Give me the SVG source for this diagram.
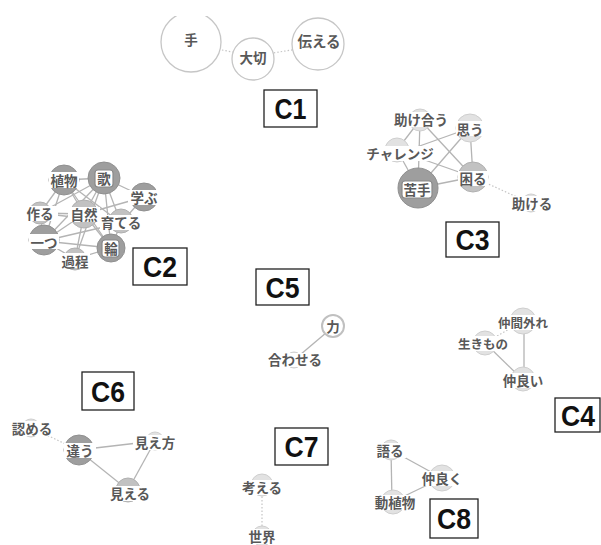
<svg xmlns="http://www.w3.org/2000/svg" width="601" height="545" viewBox="0 0 601 545">
<style>
.bg{fill:#fff}
.e{stroke:#b4b4b4;stroke-width:1.3;fill:none}
.d{stroke:#c4c4c4;stroke-width:1.2;fill:none;stroke-dasharray:1.5 2}
.big{fill:#fff;stroke:#c6c6c6;stroke-width:1.3}
.n1{fill:#e2e2e2;stroke:#cfcfcf;stroke-width:1}
.n2{fill:#c2c2c2;stroke:#b0b0b0;stroke-width:1}
.n3{fill:#9e9e9e;stroke:#909090;stroke-width:1}
.ring{fill:#fff;stroke:#c0c0c0;stroke-width:2}
.band{fill:#fff}
.frame{fill:#fff;stroke:#8a8a8a;stroke-width:1.2}
.t{font-family:"Noto Sans CJK JP","Noto Sans",sans-serif;font-size:13.5px;font-weight:bold;fill:#585858;text-anchor:middle;dominant-baseline:central}
.box{fill:#fff;stroke:#222;stroke-width:1.3}
.lab{font-family:"Liberation Sans",Arial,sans-serif;font-size:29px;font-weight:bold;fill:#111;text-anchor:middle}
</style>
<defs>
<clipPath id="top"><rect x="0" y="16" width="601" height="529"/></clipPath>
</defs>
<rect class="bg" x="0" y="0" width="601" height="545"/>

<g id="connectors">
<line class="d" x1="191" y1="44" x2="253" y2="56"/>
<line class="d" x1="253" y1="56" x2="318" y2="46"/>
<line class="e" x1="64" y1="180" x2="104" y2="178"/>
<line class="e" x1="64" y1="180" x2="40" y2="213"/>
<line class="e" x1="64" y1="180" x2="84" y2="214"/>
<line class="e" x1="64" y1="180" x2="121" y2="223"/>
<line class="e" x1="64" y1="180" x2="111" y2="248"/>
<line class="e" x1="64" y1="180" x2="44" y2="241"/>
<line class="e" x1="104" y1="178" x2="144" y2="197"/>
<line class="e" x1="104" y1="178" x2="84" y2="214"/>
<line class="e" x1="104" y1="178" x2="121" y2="223"/>
<line class="e" x1="104" y1="178" x2="40" y2="213"/>
<line class="e" x1="104" y1="178" x2="111" y2="248"/>
<line class="e" x1="104" y1="178" x2="75" y2="259"/>
<line class="e" x1="104" y1="178" x2="44" y2="241"/>
<line class="e" x1="84" y1="214" x2="40" y2="213"/>
<line class="e" x1="84" y1="214" x2="121" y2="223"/>
<line class="e" x1="84" y1="214" x2="44" y2="241"/>
<line class="e" x1="84" y1="214" x2="111" y2="248"/>
<line class="e" x1="84" y1="214" x2="75" y2="259"/>
<line class="e" x1="40" y1="213" x2="44" y2="241"/>
<line class="e" x1="40" y1="213" x2="121" y2="223"/>
<line class="e" x1="44" y1="241" x2="111" y2="248"/>
<line class="e" x1="44" y1="241" x2="75" y2="259"/>
<line class="e" x1="44" y1="241" x2="121" y2="223"/>
<line class="e" x1="75" y1="259" x2="111" y2="248"/>
<line class="e" x1="121" y1="223" x2="111" y2="248"/>
<line class="e" x1="144" y1="197" x2="121" y2="223"/>
<line class="e" x1="144" y1="197" x2="84" y2="214"/>
<line class="e" x1="420" y1="120" x2="397" y2="150"/>
<line class="e" x1="420" y1="120" x2="418" y2="188"/>
<line class="e" x1="420" y1="120" x2="473" y2="177"/>
<line class="e" x1="470" y1="128" x2="400" y2="153"/>
<line class="e" x1="470" y1="128" x2="418" y2="188"/>
<line class="e" x1="470" y1="128" x2="473" y2="177"/>
<line class="e" x1="397" y1="150" x2="418" y2="188"/>
<line class="e" x1="405" y1="153" x2="473" y2="177"/>
<line class="e" x1="418" y1="188" x2="473" y2="177"/>
<line class="d" x1="473" y1="177" x2="530" y2="203"/>
<line class="e" x1="524" y1="321" x2="524" y2="379"/>
<line class="e" x1="485" y1="343" x2="522" y2="379"/>
<line class="d" x1="485" y1="343" x2="523" y2="321"/>
<line class="e" x1="333" y1="327" x2="294" y2="360"/>
<line class="d" x1="32" y1="428" x2="78" y2="450"/>
<line class="e" x1="78" y1="450" x2="155" y2="441"/>
<line class="e" x1="78" y1="450" x2="128" y2="490"/>
<line class="e" x1="155" y1="441" x2="128" y2="490"/>
<line class="d" x1="262" y1="486" x2="262" y2="534"/>
<line class="e" x1="391" y1="450" x2="392" y2="502"/>
<line class="e" x1="391" y1="450" x2="442" y2="478"/>
<line class="e" x1="442" y1="478" x2="392" y2="502"/>
</g>

<g id="n-te" clip-path="url(#top)"><circle class="big" cx="191" cy="42" r="30"/><text class="t" x="191" y="39">手</text></g>
<g id="n-taisetsu"><circle class="big" cx="253" cy="59" r="21"/><text class="t" x="253" y="57">大切</text></g>
<g id="n-tsutaeru" clip-path="url(#top)"><circle class="big" cx="318" cy="44" r="26"/><text class="t" x="319" y="40" style="font-size:14.5px">伝える</text></g>

<g id="n-shokubutsu"><circle class="n3" cx="64" cy="180" r="15"/><rect class="band" x="49" y="172" width="30" height="16"/><text class="t" x="64" y="180">植物</text></g>
<g id="n-uta"><circle class="n3" cx="104" cy="178" r="16"/><rect class="frame" x="95" y="170" width="18" height="17" rx="3"/><text class="t" x="104" y="178">歌</text></g>
<g id="n-manabu"><circle class="n3" cx="144" cy="197" r="14"/><rect class="band" x="128" y="190" width="32" height="15"/><text class="t" x="144" y="197">学ぶ</text></g>
<g id="n-tsukuru"><circle class="n2" cx="40" cy="213" r="11"/><rect class="band" x="22" y="206" width="36" height="15"/><text class="t" x="40" y="213">作る</text></g>
<g id="n-shizen"><circle class="n2" cx="84" cy="214" r="14"/><rect class="band" x="68" y="207" width="32" height="15"/><text class="t" x="84" y="214">自然</text></g>
<g id="n-sodateru"><circle class="n2" cx="121" cy="221" r="12"/><rect class="band" x="100" y="215" width="42" height="15"/><text class="t" x="121" y="222">育てる</text></g>
<g id="n-hitotsu"><circle class="n3" cx="44" cy="240" r="15"/><rect class="band" x="29" y="234" width="30" height="15"/><text class="t" x="44" y="242">一つ</text></g>
<g id="n-wa"><circle class="n3" cx="111" cy="248" r="14"/><rect class="frame" x="102" y="240" width="17" height="17" rx="3"/><text class="t" x="111" y="248">輪</text></g>
<g id="n-katei"><circle class="n2" cx="75" cy="259" r="11"/><rect class="band" x="60" y="253" width="30" height="15"/><text class="t" x="75" y="261">過程</text></g>

<g id="n-tasukeau"><circle class="n1" cx="420" cy="120" r="11"/><rect class="band" x="393" y="112" width="56" height="15"/><text class="t" x="421" y="119">助け合う</text></g>
<g id="n-omou"><circle class="n1" cx="470" cy="128" r="14"/><rect class="band" x="456" y="121" width="29" height="15"/><text class="t" x="470" y="129">思う</text></g>
<g id="n-challenge"><circle class="n1" cx="397" cy="150" r="12"/><rect class="band" x="366" y="146" width="68" height="15"/><text class="t" x="400" y="153">チャレンジ</text></g>
<g id="n-komaru"><circle class="n2" cx="473" cy="177" r="15"/><rect class="band" x="458" y="171" width="30" height="15"/><text class="t" x="473" y="178">困る</text></g>
<g id="n-nigate"><circle class="n3" cx="418" cy="188" r="20"/><rect class="frame" x="402" y="181" width="30" height="17" rx="3"/><text class="t" x="417" y="189">苦手</text></g>
<g id="n-tasukeru"><circle class="n1" cx="531" cy="203" r="9"/><rect class="band" x="510" y="196" width="44" height="15"/><text class="t" x="532" y="203">助ける</text></g>

<g id="n-nakamahazure"><circle class="n1" cx="523" cy="321" r="13"/><rect class="band" x="498" y="315" width="50" height="15"/><text class="t" x="523" y="322" style="font-size:12.5px">仲間外れ</text></g>
<g id="n-ikimono"><circle class="n1" cx="485" cy="343" r="12"/><rect class="band" x="458" y="336" width="51" height="15"/><text class="t" x="483" y="343" style="font-size:12.5px">生きもの</text></g>
<g id="n-nakayoi"><circle class="n1" cx="523" cy="379" r="12"/><rect class="band" x="502" y="373" width="42" height="15"/><text class="t" x="523" y="380">仲良い</text></g>

<g id="n-chikara"><circle class="ring" cx="333" cy="326" r="11"/><text class="t" x="333" y="326">力</text></g>
<g id="n-awaseru"><circle class="n1" cx="294" cy="360" r="8"/><rect class="band" x="266" y="353" width="57" height="14"/><text class="t" x="295" y="359">合わせる</text></g>

<g id="n-mitomeru"><circle class="n1" cx="31" cy="428" r="9"/><rect class="band" x="10" y="421" width="44" height="15"/><text class="t" x="32" y="428">認める</text></g>
<g id="n-chigau"><circle class="n3" cx="79" cy="450" r="15"/><rect class="band" x="64" y="443" width="32" height="15"/><text class="t" x="80" y="450">違う</text></g>
<g id="n-miekata"><circle class="n1" cx="155" cy="441" r="9"/><rect class="band" x="133" y="435" width="44" height="15"/><text class="t" x="155" y="442">見え方</text></g>
<g id="n-mieru"><circle class="n2" cx="128" cy="490" r="12"/><rect class="band" x="108" y="486" width="44" height="15"/><text class="t" x="130" y="493">見える</text></g>

<g id="n-kangaeru"><circle class="n1" cx="262" cy="485" r="11"/><rect class="band" x="240" y="480" width="44" height="15"/><text class="t" x="262" y="487">考える</text></g>
<g id="n-sekai"><circle class="n1" cx="262" cy="536" r="10"/><rect class="band" x="246" y="529" width="32" height="15"/><text class="t" x="262" y="536">世界</text></g>

<g id="n-kataru"><circle class="n1" cx="391" cy="450" r="10"/><rect class="band" x="375" y="443" width="31" height="15"/><text class="t" x="390" y="450">語る</text></g>
<g id="n-nakayoku"><circle class="n1" cx="442" cy="478" r="13"/><rect class="band" x="420" y="471" width="44" height="15"/><text class="t" x="442" y="478">仲良く</text></g>
<g id="n-doushokubutsu"><circle class="n1" cx="393" cy="502" r="12"/><rect class="band" x="373" y="495" width="45" height="15"/><text class="t" x="395" y="502">動植物</text></g>

<g id="lab-c1"><rect class="box" x="264" y="90" width="53" height="37"/><text class="lab" x="290.5" y="119" textLength="32" lengthAdjust="spacingAndGlyphs">C1</text></g>
<g id="lab-c2"><rect class="box" x="133" y="248" width="54" height="37"/><text class="lab" x="160" y="277" textLength="34" lengthAdjust="spacingAndGlyphs">C2</text></g>
<g id="lab-c3"><rect class="box" x="446" y="222" width="53" height="35"/><text class="lab" x="472.5" y="250" textLength="34" lengthAdjust="spacingAndGlyphs">C3</text></g>
<g id="lab-c4"><rect class="box" x="555" y="398" width="45" height="34"/><text class="lab" x="578" y="426" textLength="34" lengthAdjust="spacingAndGlyphs">C4</text></g>
<g id="lab-c5"><rect class="box" x="256" y="269" width="53" height="36"/><text class="lab" x="282.5" y="298" textLength="34" lengthAdjust="spacingAndGlyphs">C5</text></g>
<g id="lab-c6"><rect class="box" x="82" y="372" width="52" height="38"/><text class="lab" x="108" y="402" textLength="34" lengthAdjust="spacingAndGlyphs">C6</text></g>
<g id="lab-c7"><rect class="box" x="275" y="428" width="53" height="37"/><text class="lab" x="301.5" y="457" textLength="34" lengthAdjust="spacingAndGlyphs">C7</text></g>
<g id="lab-c8"><rect class="box" x="430" y="499" width="48" height="39"/><text class="lab" x="454" y="529" textLength="34" lengthAdjust="spacingAndGlyphs">C8</text></g>
</svg>
